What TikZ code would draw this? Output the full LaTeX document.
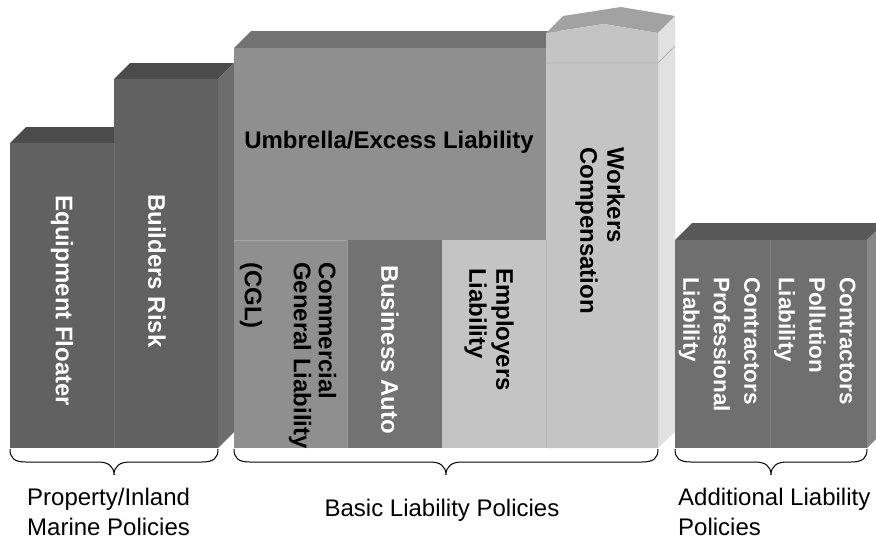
\documentclass[tikz,border=0pt]{standalone}
\usepackage{fontspec}
\setmainfont{Liberation Sans}
\definecolor{darkfront}{HTML}{616161}
\definecolor{darktop}{HTML}{4B4B4B}
\definecolor{darkside}{HTML}{6D6D6D}
\definecolor{darkedge}{HTML}{727272}
\definecolor{midfront}{HTML}{8F8F8F}
\definecolor{midtop}{HTML}{727272}
\definecolor{autofront}{HTML}{727272}
\definecolor{lightfront}{HTML}{C4C4C4}
\definecolor{lightedge}{HTML}{B4B4B4}
\definecolor{rooftop}{HTML}{A2A2A2}
\definecolor{lightside}{HTML}{E1E1E1}
\definecolor{addfront}{HTML}{6F6F6F}
\definecolor{addtop}{HTML}{585858}
\definecolor{addside}{HTML}{878787}
\definecolor{addedge}{HTML}{828282}
\newcommand{\policybrace}[3]{%
  \draw[bracestyle] (#1,449) .. controls (#1,458) and (#1+4,462) .. (#1+16,462)
    -- (#2-16,462) .. controls (#2-6,462) and (#2,466) .. (#2,475)
    .. controls (#2,466) and (#2+6,462) .. (#2+16,462)
    -- (#3-16,462) .. controls (#3-4,462) and (#3,458) .. (#3,449);}
\begin{document}
\begin{tikzpicture}[x=1pt,y=-1pt,
  bracestyle/.style={draw=black,line width=1pt},
  sep/.style={line width=0.8pt},
  boxlabel/.style={font=\bfseries\fontsize{24}{27}\selectfont,rotate=-90,align=left,inner sep=0pt},
  smalllabel/.style={font=\bfseries\fontsize{22.5}{30.5}\selectfont,rotate=-90,align=left,inner sep=0pt},
  grouplabel/.style={font=\fontsize{24}{30}\selectfont,align=left,inner sep=0pt}]
\useasboundingbox (0,0) rectangle (876,541);
\clip (0,0) rectangle (876,541);

% ---- property / inland marine group
\fill[darktop] (10,143) -- (114,143) -- (130,127) -- (26,127) -- cycle;
\fill[darkfront] (10,143) rectangle (114,448);
\fill[darktop] (114,79) -- (218,79) -- (234,63) -- (130,63) -- cycle;
\fill[darkside] (218,79) -- (234,63) -- (234,432) -- (218,448) -- cycle;
\fill[darkfront] (114,79) rectangle (218,448);
\draw[sep,darkedge] (114,143) -- (114,448);

% ---- basic liability group
\fill[midtop] (234,48) -- (546,48) -- (563,31) -- (251,31) -- cycle;
\fill[midfront] (234,48) rectangle (546,240);
\fill[midfront] (234,240) rectangle (347,448);
\fill[autofront] (347,240) rectangle (442,448);
\fill[lightfront] (442,240) rectangle (546,448);
\draw[sep,color=midfront!80!white] (234,240) -- (347,240);
\draw[sep,color=midfront!90!white] (347,240) -- (347,448);
% workers compensation column with its pitched roof
\fill[rooftop] (546,33) -- (604,24) -- (658,33) -- (675,16) -- (621,7) -- (563,16) -- cycle;
\fill[lightside] (658,33) -- (675,16) -- (675,432) -- (658,448) -- cycle;
\fill[lightfront] (546,33) -- (604,24) -- (658,33) -- (658,448) -- (546,448) -- cycle;
\draw[sep,lightedge] (546,63) -- (658,63) -- (675,46);
\draw[sep,lightedge] (546,240) -- (546,448);

% ---- additional liability group
\fill[addtop] (675,240) -- (867,240) -- (884,223) -- (692,223) -- cycle;
\fill[addside] (867,240) -- (884,223) -- (884,431) -- (867,448) -- cycle;
\fill[addfront] (675,240) rectangle (867,448);
\draw[sep,addedge] (770,240) -- (770,448);

% ---- labels on the blocks
\node[boxlabel,text=white] (equip) at (62,301) {Equipment Floater};
\node[boxlabel,text=white] (builders) at (157,271) {Builders Risk};
\node[boxlabel,rotate=90,text=black] (umbrella) at (389,142) {Umbrella/Excess Liability};
\node[boxlabel,anchor=west,text=black] (workers) at (600,147) {Workers\\Compensation};
\node[boxlabel,anchor=west,text=black,font=\bfseries\fontsize{24}{25}\selectfont] (cgl) at (288,262) {Commercial\\General Liability\\[24pt](CGL)};
\node[boxlabel,text=white] (auto) at (390,350) {Business Auto};
\node[boxlabel,anchor=west,text=black] (employers) at (489,268) {Employers\\Liability};
\node[smalllabel,anchor=west,text=white] (pollution) at (815,277) {Contractors\\Pollution\\Liability};
\node[smalllabel,anchor=west,text=white] (professional) at (719.5,277) {Contractors\\Professional\\Liability};

% ---- grouping braces and their captions
\policybrace{10}{114}{218}
\policybrace{234}{446}{658}
\policybrace{675}{771}{867}
\node[grouplabel,anchor=west] (propgroup) at (27,512) {Property/Inland\\Marine Policies};
\node[grouplabel] (basicgroup) at (442,510) {Basic Liability Policies};
\node[grouplabel,anchor=west] (addgroup) at (678,512) {Additional Liability\\Policies};
\end{tikzpicture}
\end{document}
